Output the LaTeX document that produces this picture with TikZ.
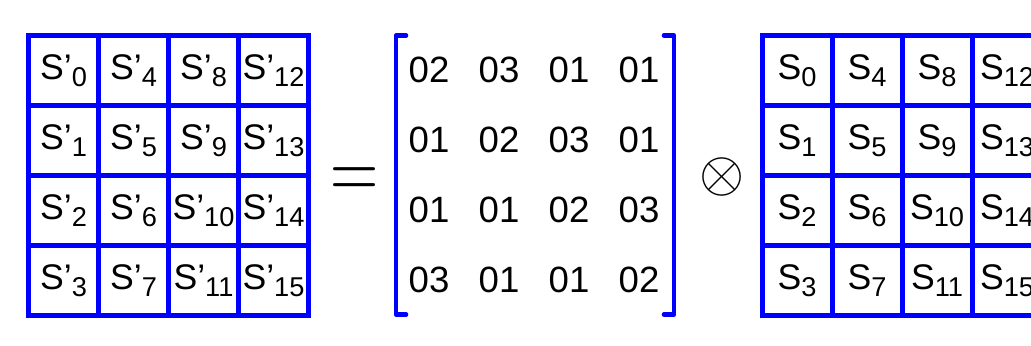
\documentclass[tikz,border=0pt]{standalone}
\usepackage{fontspec}
\setsansfont{Liberation Sans}
\usepackage{tikz}
\usepackage{xcolor}
\definecolor{Ink}{HTML}{000000}
\definecolor{GridBlue}{HTML}{0000FF}
\newcommand{\cellsub}[1]{\raisebox{-3.4pt}{\fontsize{13.6}{15}\selectfont #1}}

\begin{document}
\begin{tikzpicture}[
  x=0.5pt,y=-0.5pt,
  cell/.style={draw=GridBlue, line width=2.5pt, minimum width=35pt, minimum height=35pt, inner sep=0pt, text=Ink, font=\sffamily\fontsize{17.8}{20}\selectfont},
  num/.style={inner sep=0pt, text=Ink, font=\sffamily\fontsize{18.3}{22}\selectfont},
  brack/.style={draw=GridBlue, line width=2.3pt, line cap=round, line join=round},
  sign/.style={inner sep=0pt, text=Ink}
]
  \useasboundingbox (0,0) rectangle (1031,346);

  \node[cell] (a0) at (63.5,70.5) {S’\cellsub{0}};
  \node[cell] (a1) at (63.5,140.5) {S’\cellsub{1}};
  \node[cell] (a2) at (63.5,210.5) {S’\cellsub{2}};
  \node[cell] (a3) at (63.5,280.5) {S’\cellsub{3}};
  \node[cell] (a4) at (133.5,70.5) {S’\cellsub{4}};
  \node[cell] (a5) at (133.5,140.5) {S’\cellsub{5}};
  \node[cell] (a6) at (133.5,210.5) {S’\cellsub{6}};
  \node[cell] (a7) at (133.5,280.5) {S’\cellsub{7}};
  \node[cell] (a8) at (203.5,70.5) {S’\cellsub{8}};
  \node[cell] (a9) at (203.5,140.5) {S’\cellsub{9}};
  \node[cell] (a10) at (203.5,210.5) {S’\cellsub{10}};
  \node[cell] (a11) at (203.5,280.5) {S’\cellsub{11}};
  \node[cell] (a12) at (273.5,70.5) {S’\cellsub{12}};
  \node[cell] (a13) at (273.5,140.5) {S’\cellsub{13}};
  \node[cell] (a14) at (273.5,210.5) {S’\cellsub{14}};
  \node[cell] (a15) at (273.5,280.5) {S’\cellsub{15}};

  \node[sign, anchor=base] (eq) at (355,199.4) {\rmfamily\scalebox{1}[1.34]{\fontsize{33.4}{40}\selectfont =}};

  \node[num] (m11) at (429,70) {02};
  \node[num] (m12) at (499,70) {03};
  \node[num] (m13) at (569,70) {01};
  \node[num] (m14) at (639,70) {01};
  \node[num] (m21) at (429,140) {01};
  \node[num] (m22) at (499,140) {02};
  \node[num] (m23) at (569,140) {03};
  \node[num] (m24) at (639,140) {01};
  \node[num] (m31) at (429,210) {01};
  \node[num] (m32) at (499,210) {01};
  \node[num] (m33) at (569,210) {02};
  \node[num] (m34) at (639,210) {03};
  \node[num] (m41) at (429,280) {03};
  \node[num] (m42) at (499,280) {01};
  \node[num] (m43) at (569,280) {01};
  \node[num] (m44) at (639,280) {02};
  \draw[brack] (406,35.5) -- (396,35.5) -- (396,314.5) -- (406,314.5);
  \draw[brack] (664,35.5) -- (674,35.5) -- (674,314.5) -- (664,314.5);

  \node[sign] (ox) at (722.5,177) {\scalebox{2.9}{$\otimes$}};

  \node[cell] (b0) at (797,70.5) {S\cellsub{0}};
  \node[cell] (b1) at (797,140.5) {S\cellsub{1}};
  \node[cell] (b2) at (797,210.5) {S\cellsub{2}};
  \node[cell] (b3) at (797,280.5) {S\cellsub{3}};
  \node[cell] (b4) at (867,70.5) {S\cellsub{4}};
  \node[cell] (b5) at (867,140.5) {S\cellsub{5}};
  \node[cell] (b6) at (867,210.5) {S\cellsub{6}};
  \node[cell] (b7) at (867,280.5) {S\cellsub{7}};
  \node[cell] (b8) at (937,70.5) {S\cellsub{8}};
  \node[cell] (b9) at (937,140.5) {S\cellsub{9}};
  \node[cell] (b10) at (937,210.5) {S\cellsub{10}};
  \node[cell] (b11) at (937,280.5) {S\cellsub{11}};
  \node[cell] (b12) at (1007,70.5) {S\cellsub{12}};
  \node[cell] (b13) at (1007,140.5) {S\cellsub{13}};
  \node[cell] (b14) at (1007,210.5) {S\cellsub{14}};
  \node[cell] (b15) at (1007,280.5) {S\cellsub{15}};
\end{tikzpicture}
\end{document}
